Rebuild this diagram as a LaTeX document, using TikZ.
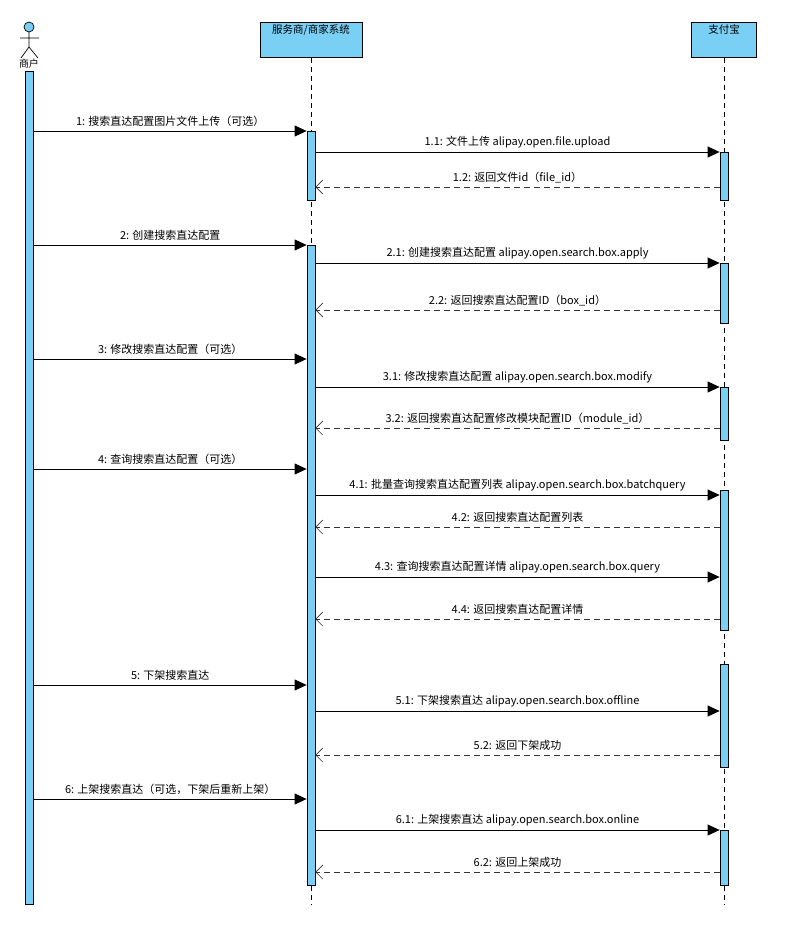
\documentclass[tikz,border=0pt]{standalone}
\usepackage{fontspec}
\setmainfont{Noto Sans CJK SC}
\usetikzlibrary{arrows.meta}
\definecolor{lb}{HTML}{7ACFF5}
\begin{document}
\begin{tikzpicture}[x=1pt,y=-1pt,
  bar/.style={draw,fill=lb,line width=0.8pt,inner sep=0pt,minimum width=8pt},
  head/.style={draw,fill=lb,line width=0.8pt,inner sep=0pt,minimum width=#1,minimum height=35pt,anchor=north},
  life/.style={dashed,line width=0.7pt,dash pattern=on 5pt off 4pt},
  msg/.style={line width=0.8pt,-{Triangle[length=12pt,width=11pt]}},
  ret/.style={line width=0.7pt,dash pattern=on 6pt off 4pt,-{Straight Barb[length=7pt,width=14pt,line width=0.6pt]},draw=black!80},
  lab/.style={font=\fontsize{11}{13}\selectfont,anchor=south,inner sep=4pt}]
\useasboundingbox (0,0) rectangle (793,931);
% headers
\node[head=102pt] (hs) at (311,22) {};
\node[font=\fontsize{10.5}{12}\selectfont,anchor=north,inner sep=2pt] at (311,22) {服务商/商家系统};
\node[head=65pt] (hz) at (724,22) {};
\node[font=\fontsize{10.5}{12}\selectfont,anchor=north,inner sep=2pt] at (724,22) {支付宝};
\draw[life] (hs.south) -- (311,905);
\draw[life] (hz.south) -- (724,905);
% actor
\draw[line width=0.7pt] (29,32) -- (29,47) (20,38) -- (39,38) (21,58) -- (29,47) -- (38,58);
\node[draw,fill=lb,circle,minimum size=10pt,inner sep=0pt,line width=0.7pt] (ah) at (29,27) {};
\node[font=\fontsize{10}{12}\selectfont] (an) at (29,64) {商户};
% bars
\node[bar,minimum height=833pt,anchor=north] (a) at (29.5,71) {};
\node[bar,minimum height=69pt,anchor=north] (m1) at (311,131) {};
\node[bar,minimum height=640pt,anchor=north] (m2) at (311,245) {};
\node[bar,minimum height=48pt,anchor=north] (z1) at (724,152) {};
\node[bar,minimum height=60pt,anchor=north] (z2) at (724,263) {};
\node[bar,minimum height=53pt,anchor=north] (z3) at (724,387) {};
\node[bar,minimum height=140pt,anchor=north] (z4) at (724,490) {};
\node[bar,minimum height=103pt,anchor=north] (z5) at (724,664) {};
\node[bar,minimum height=55pt,anchor=north] (z6) at (724,830) {};
% messages
\newcommand{\callA}[3]{\draw[msg] (a.east |- 0,#1) -- node[lab]{#3} (#2.west |- 0,#1);}
\newcommand{\callB}[4]{\draw[msg] (#2.east |- 0,#1) -- node[lab]{#4} (#3.west |- 0,#1);}
\newcommand{\retB}[4]{\draw[ret] (#2.west |- 0,#1) -- node[lab,text=black]{#4} (#3.east |- 0,#1);}
\callA{131}{m1}{1: 搜索直达配置图片文件上传（可选）}
\callB{152}{m1}{z1}{1.1: 文件上传 alipay.open.file.upload}
\retB{187}{z1}{m1}{1.2: 返回文件id（file\_id）}
\callA{245}{m2}{2: 创建搜索直达配置}
\callB{263}{m2}{z2}{2.1: 创建搜索直达配置 alipay.open.search.box.apply}
\retB{310}{z2}{m2}{2.2: 返回搜索直达配置ID（box\_id）}
\callA{359}{m2}{3: 修改搜索直达配置（可选）}
\callB{387}{m2}{z3}{3.1: 修改搜索直达配置 alipay.open.search.box.modify}
\retB{428}{z3}{m2}{3.2: 返回搜索直达配置修改模块配置ID（module\_id）}
\callA{469}{m2}{4: 查询搜索直达配置（可选）}
\callB{495}{m2}{z4}{4.1: 批量查询搜索直达配置列表 alipay.open.search.box.batchquery}
\retB{527}{z4}{m2}{4.2: 返回搜索直达配置列表}
\callB{577}{m2}{z4}{4.3: 查询搜索直达配置详情 alipay.open.search.box.query}
\retB{619}{z4}{m2}{4.4: 返回搜索直达配置详情}
\callA{685}{m2}{5: 下架搜索直达}
\callB{711}{m2}{z5}{5.1: 下架搜索直达 alipay.open.search.box.offline}
\retB{755}{z5}{m2}{5.2: 返回下架成功}
\callA{799}{m2}{6: 上架搜索直达（可选，下架后重新上架）}
\callB{830}{m2}{z6}{6.1: 上架搜索直达 alipay.open.search.box.online}
\retB{872}{z6}{m2}{6.2: 返回上架成功}
\end{tikzpicture}
\end{document}
